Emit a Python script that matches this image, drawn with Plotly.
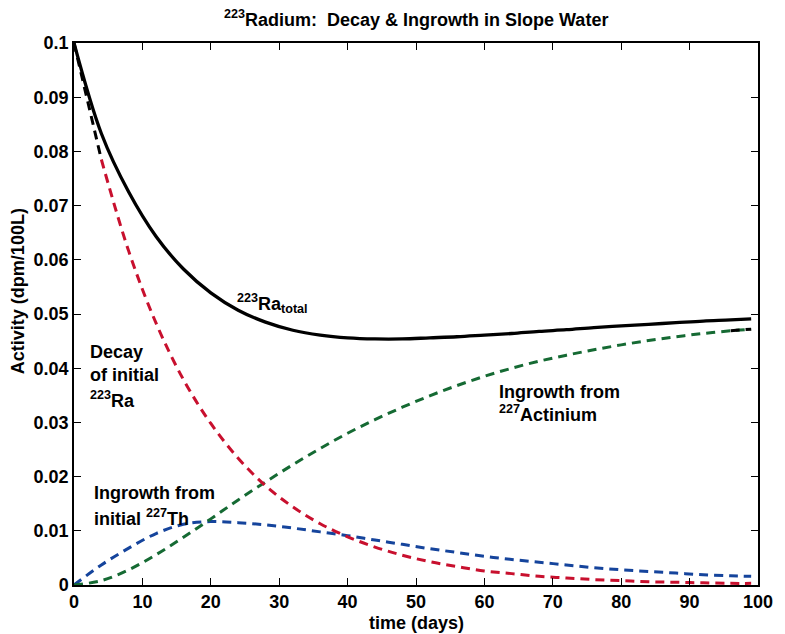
import plotly.graph_objects as go

# ---- data ----
days = [0, 4, 8, 12, 16, 20, 24, 28, 32, 36, 40, 44, 48, 52, 56, 60, 64, 68,
        72, 76, 80, 84, 88, 92, 96, 99]

ra_total = [0.1, 0.0833, 0.0725, 0.0643, 0.0583, 0.0539, 0.0507, 0.0485, 0.0470,
            0.0461, 0.0456, 0.0454, 0.0454, 0.0456, 0.0458, 0.0461, 0.0464, 0.0468,
            0.0471, 0.0475, 0.0478, 0.0481, 0.0484, 0.0487, 0.0489, 0.0491]

ra_decay = [0.1, 0.0785, 0.0616, 0.0483, 0.0379, 0.0298, 0.0234, 0.0183, 0.0144,
            0.0113, 0.0089, 0.0070, 0.0055, 0.0043, 0.0034, 0.0026, 0.0021, 0.0016,
            0.0013, 0.0010, 0.0008, 0.0006, 0.0005, 0.0004, 0.0003, 0.0003]

th_ingrowth = [0.0, 0.0037, 0.0068, 0.0095, 0.0112, 0.0117, 0.0115, 0.0111, 0.0105,
               0.0098, 0.0091, 0.0083, 0.0075, 0.0067, 0.0060, 0.0053, 0.0047, 0.0042,
               0.0037, 0.0032, 0.0028, 0.0025, 0.0022, 0.0019, 0.0017, 0.0016]

ac_ingrowth = [0.0, 0.0008, 0.0028, 0.0056, 0.0088, 0.0122, 0.0157, 0.0190, 0.0222,
               0.0252, 0.0280, 0.0305, 0.0328, 0.0349, 0.0368, 0.0385, 0.0400, 0.0413,
               0.0424, 0.0434, 0.0443, 0.0451, 0.0458, 0.0464, 0.0469, 0.0472]

x_ticks = [0, 10, 20, 30, 40, 50, 60, 70, 80, 90, 100]
y_ticks = [0, 0.01, 0.02, 0.03, 0.04, 0.05, 0.06, 0.07, 0.08, 0.09, 0.1]
y_tick_labels = ["0", "0.01", "0.02", "0.03", "0.04", "0.05", "0.06", "0.07", "0.08", "0.09", "0.1"]

RED = "#c8102e"
BLUE = "#15449c"
GREEN = "#156a33"
DASH = "9px,6px"

fig = go.Figure()

def dashed(x, y, color):
    fig.add_trace(go.Scatter(x=x, y=y, mode="lines", line_shape="spline",
                             line=dict(color=color, width=3, dash=DASH),
                             hoverinfo="skip", showlegend=False))

dashed(days, th_ingrowth, BLUE)
dashed(days, ac_ingrowth, GREEN)
dashed(days[1:], ra_decay[1:], RED)
dashed(days[:2], ra_decay[:2], "black")
dashed(days[-2:], ac_ingrowth[-2:], "black")

fig.add_trace(go.Scatter(x=days, y=ra_total, mode="lines", line_shape="spline",
                         line=dict(color="black", width=3.3),
                         hoverinfo="skip", showlegend=False))

FONT = "Liberation Sans, Arial, sans-serif"
FS = 18

def label(x, y, text, size=FS):
    fig.add_annotation(x=x, y=y, xref="x", yref="y", text=text, showarrow=False,
                       xanchor="left", yanchor="middle",
                       font=dict(family=FONT, size=size, color="black", weight="bold"))

label(2.1, 0.0430, "Decay")
label(2.1, 0.0387, "of initial")
label(2.1, 0.0342, "<sup>223</sup>Ra")
label(23.6, 0.0520, "<sup>223</sup>Ra<sub>total</sub>")
label(2.6, 0.0169, "Ingrowth from")
label(2.6, 0.0125, "initial <sup>227</sup>Th")
label(61.8, 0.0357, "Ingrowth from")
label(61.8, 0.0317, "<sup>227</sup>Actinium")

fig.add_annotation(x=0.5007, y=1.046, xref="paper", yref="paper", showarrow=False,
                   text="<sup>223</sup>Radium:  Decay & Ingrowth in Slope Water",
                   xanchor="center", yanchor="middle",
                   font=dict(family=FONT, size=FS, color="black", weight="bold"))
fig.add_annotation(x=0.5, y=-0.071, xref="paper", yref="paper", showarrow=False,
                   text="time (days)", xanchor="center", yanchor="middle",
                   font=dict(family=FONT, size=FS, color="black", weight="bold"))
fig.add_annotation(x=-0.082, y=0.542, xref="paper", yref="paper", showarrow=False,
                   text="Activity (dpm/100L)", textangle=-90,
                   xanchor="center", yanchor="middle",
                   font=dict(family=FONT, size=FS, color="black", weight="bold"))

axis_common = dict(showline=True, linecolor="black", linewidth=1.5, mirror="allticks",
                   ticks="inside", ticklen=7, tickwidth=1.2, tickcolor="black",
                   showgrid=False, zeroline=False,
                   tickfont=dict(family=FONT, size=FS, color="black", weight="bold"))

fig.update_xaxes(range=[0, 100], tickvals=x_ticks, ticktext=[str(v) for v in x_ticks],
                 **axis_common)
fig.update_yaxes(range=[0, 0.1], tickvals=y_ticks, ticktext=y_tick_labels, **axis_common)

fig.update_layout(width=785, height=634, margin=dict(l=73.5, r=19.5, t=43, b=49),
                  paper_bgcolor="white", plot_bgcolor="white")

fig.write_html("out.html")
